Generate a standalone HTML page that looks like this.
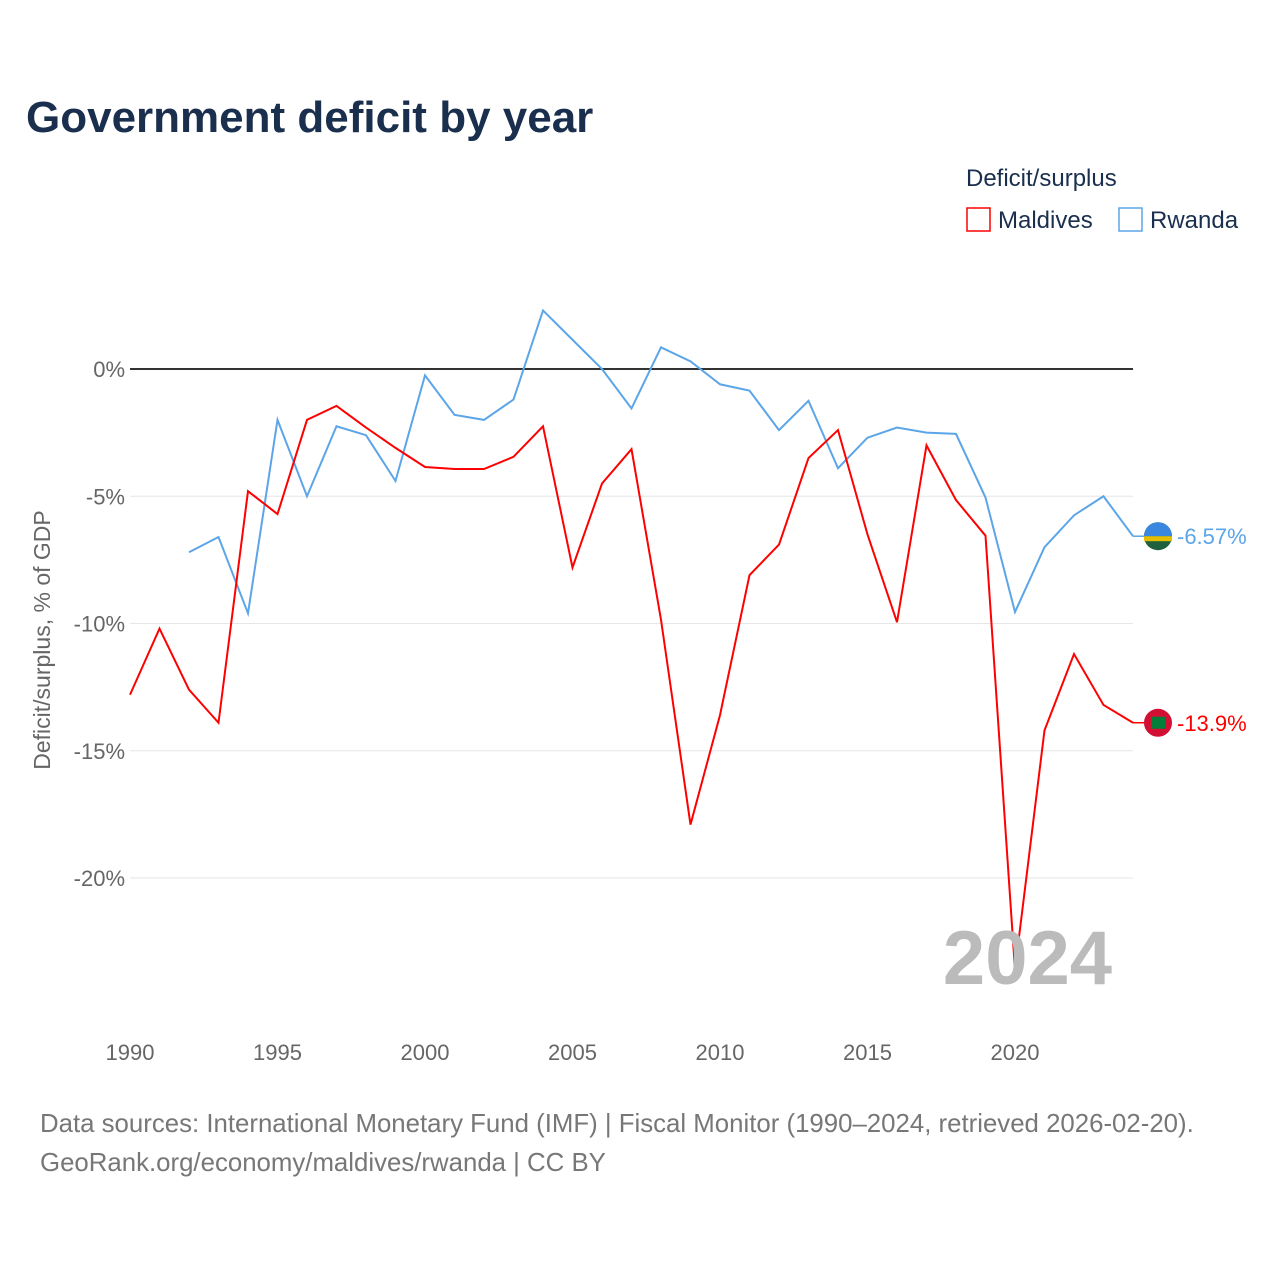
<!DOCTYPE html>
<html><head><meta charset="utf-8"><style>
body{margin:0;background:#fff;font-family:"Liberation Sans",sans-serif}
</style></head><body>
<svg id="chart" width="1280" height="1280" viewBox="0 0 1280 1280" style="font-family:'Liberation Sans',sans-serif">
<text x="26" y="132" font-size="44" font-weight="bold" fill="#1a2e4d">Government deficit by year</text>
<text x="966" y="186" font-size="24" fill="#1a2e4d">Deficit/surplus</text>
<g><rect x="967" y="208" width="23" height="23" fill="none" stroke="#ff0000" stroke-width="1.5"/><text x="998" y="228" font-size="24" fill="#1a2e4d">Maldives</text></g>
<g><rect x="1119" y="208" width="23" height="23" fill="none" stroke="#5ba5e8" stroke-width="1.5"/><text x="1150" y="228" font-size="24" fill="#1a2e4d">Rwanda</text></g>
<text transform="translate(50,640) rotate(-90)" text-anchor="middle" font-size="23" fill="#666">Deficit/surplus, % of GDP</text>
<g id="grid"></g><g id="lines"></g>
<text x="1112" y="984" text-anchor="end" font-size="76" font-weight="bold" fill="#bbb">2024</text>
<text x="40" y="1132" font-size="25.8" fill="#777">Data sources: International Monetary Fund (IMF) | Fiscal Monitor (1990–2024, retrieved 2026-02-20).</text>
<text x="40" y="1171" font-size="25.8" fill="#777">GeoRank.org/economy/maldives/rwanda | CC BY</text>
</svg>
<script>
const yTicks=[0,-5,-10,-15,-20];
const xTicks=[1990,1995,2000,2005,2010,2015,2020];
const maldivesYears=[1990,1991,1992,1993,1994,1995,1996,1997,1998,1999,2000,2001,2002,2003,2004,2005,2006,2007,2008,2009,2010,2011,2012,2013,2014,2015,2016,2017,2018,2019,2020,2021,2022,2023,2024];
const maldives=[-12.8,-10.2,-12.6,-13.9,-4.8,-5.7,-2.0,-1.45,-2.3,-3.1,-3.85,-3.93,-3.93,-3.45,-2.25,-7.8,-4.5,-3.15,-9.85,-17.9,-13.6,-8.1,-6.9,-3.5,-2.4,-6.5,-9.95,-3.0,-5.15,-6.55,-23.6,-14.2,-11.2,-13.2,-13.9];
const rwandaYears=[1992,1993,1994,1995,1996,1997,1998,1999,2000,2001,2002,2003,2004,2005,2006,2007,2008,2009,2010,2011,2012,2013,2014,2015,2016,2017,2018,2019,2020,2021,2022,2023,2024];
const rwanda=[-7.2,-6.6,-9.6,-2.0,-5.0,-2.25,-2.6,-4.4,-0.25,-1.8,-2.0,-1.2,2.3,1.15,0,-1.55,0.85,0.3,-0.6,-0.85,-2.4,-1.25,-3.9,-2.7,-2.3,-2.5,-2.55,-5.05,-9.55,-7.0,-5.75,-5.0,-6.57];
const NS="http://www.w3.org/2000/svg";
const X=y=>130+(y-1990)*29.5, Y=v=>369-v*25.45;
const g=document.getElementById('grid'), L=document.getElementById('lines');
function mk(t,a,p){const e=document.createElementNS(NS,t);for(const k in a)e.setAttribute(k,a[k]);p.appendChild(e);return e;}
yTicks.forEach(v=>{
 const l=mk('line',{x1:130,x2:1133,y1:Y(v),y2:Y(v),stroke:v===0?'#333':'#e6e6e6','stroke-width':v===0?2:1},g);
 
 
 const t=mk('text',{x:125,y:Y(v)+8,'text-anchor':'end','font-size':22,fill:'#666'},g);
 t.textContent=v+'%';
 
 
});
xTicks.forEach(y=>{
 const t=mk('text',{x:X(y),y:1060,'text-anchor':'middle','font-size':22,fill:'#666'},g);
 t.textContent=y;
 
 
});
function series(ys,vs,col,name,label){
 const p=mk('polyline',{points:ys.map((y,i)=>X(y)+','+Y(vs[i])).join(' '),fill:'none',stroke:col,'stroke-width':2},L);
 
 
 const lx=X(ys[ys.length-1]),ly=Y(vs[vs.length-1]);
 mk('line',{x1:lx,x2:lx+12,y1:ly,y2:ly,stroke:col,'stroke-width':1.5},L);
 const c=mk('circle',{cx:lx+25,cy:ly,r:14,fill:name==='maldives'?'#d21034':'#20603d'},L);
 
 
 if(name==='rwanda'){mk('path',{d:`M${lx+11},${ly} A14,14 0 0 1 ${lx+39},${ly} Z`,fill:'#3a87e0'},L);mk('rect',{x:lx+11,y:ly,width:28,height:5,fill:'#e5be01'},L);}
 else{mk('rect',{x:lx+18,y:ly-6,width:14,height:12,fill:'#007e3a'},L);}
 const t=mk('text',{x:lx+44,y:ly+8,'font-size':22,fill:col},L);
 t.textContent=label;
 
 
}
series(rwandaYears,rwanda,'#5ba5e8','rwanda',rwanda[rwanda.length-1]+'%');
series(maldivesYears,maldives,'#ff0000','maldives',maldives[maldives.length-1]+'%');
</script>
</body></html>
